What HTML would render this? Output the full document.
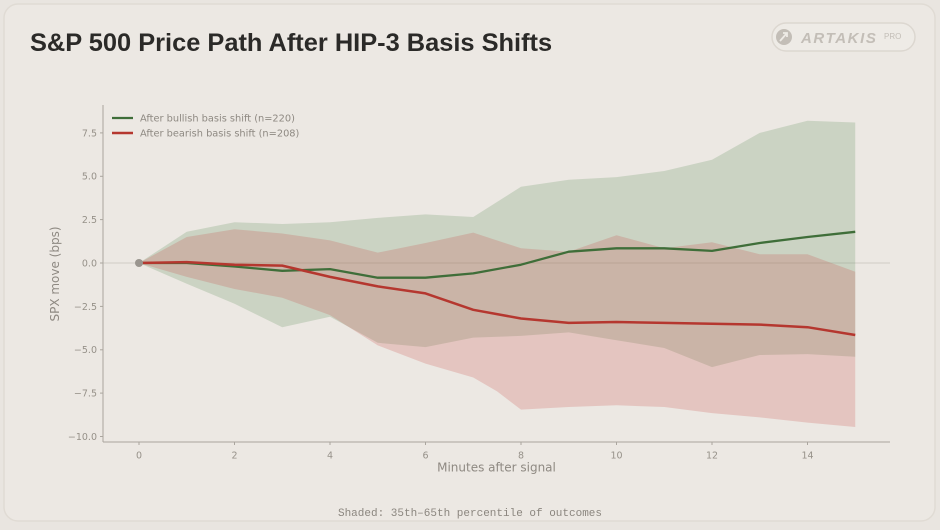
<!DOCTYPE html>
<html><head><meta charset="utf-8"><style>
html,body{margin:0;padding:0;background:#e9e5e0;}
body{width:940px;height:530px;overflow:hidden;}
svg{display:block;}
</style></head><body>
<svg width="940" height="530" viewBox="0 0 940 530" xmlns="http://www.w3.org/2000/svg">
<rect x="0" y="0" width="940" height="530" fill="#e9e5e0"/>
<rect x="4" y="4" width="931" height="517" rx="14" fill="#ece8e3" stroke="#e0dbd4" stroke-width="1.5"/>

<text x="30" y="51" font-family="Liberation Sans, Arial, sans-serif" font-weight="bold" font-size="25.4" fill="#2b2a28">S&amp;P 500 Price Path After HIP-3 Basis Shifts</text>

<g>
<rect x="772" y="23" width="143" height="28" rx="14" fill="#eeebe6" stroke="#dcd7d0" stroke-width="1.5"/>
<circle cx="784" cy="37" r="8" fill="#c3beb7"/>
<path d="M780 41 L787 33 M783 33 L787 33 L787 37" stroke="#eeebe6" stroke-width="1.8" fill="none"/>
<text x="801" y="43" font-family="Liberation Sans, Arial, sans-serif" font-weight="bold" font-style="italic" font-size="15" letter-spacing="1.6" fill="#c3beb7">ARTAKIS</text>
<text x="884" y="39" font-family="Liberation Sans, Arial, sans-serif" font-size="8" fill="#c3beb7">PRO</text>
</g>

<line x1="103" y1="263" x2="890" y2="263" stroke="#c9c4bd" stroke-width="0.8"/>

<polygon fill="#4d8044" fill-opacity="0.2" points="139,263 186.75,231.8 234.5,222.2 282.25,224 330,222.2 377.75,217.9 425.5,214.4 473.25,217 521,186.7 568.75,179.7 616.5,177.1 664.25,171 712,159.8 759.75,132.9 807.5,120.7 855.25,122.5 855.25,356.7 807.5,354.1 759.75,355 712,367.1 664.25,348 616.5,340.2 568.75,332.4 521,335.9 473.25,337.6 425.5,347.1 377.75,342.8 330,316.8 282.25,327.2 234.5,303.8 186.75,283.8"/>

<polygon fill="#c83c37" fill-opacity="0.2" points="139,263 186.75,237 234.5,229.2 282.25,233.5 330,240.4 377.75,252.6 425.5,243 473.25,232.6 521,248.3 568.75,251.7 616.5,235.2 664.25,248.3 712,242.2 759.75,254.3 807.5,254.3 855.25,271.7 855.25,427 807.5,422.6 759.75,417.4 712,413.1 664.25,407 616.5,405.3 568.75,407 521,409.6 497.1,391.4 473.25,377.5 425.5,363.6 377.75,345.4 330,315.1 282.25,297.7 234.5,289 186.75,276.9"/>

<polyline fill="none" stroke="#3f6e39" stroke-width="2.3" stroke-linejoin="round" points="139,263 186.75,263 234.5,266.5 282.25,270.8 330,269.1 377.75,277.7 425.5,277.7 473.25,273.4 521,264.7 568.75,251.7 616.5,248.3 664.25,248.3 712,250.9 759.75,243 807.5,237 855.25,231.8"/>
<polyline fill="none" stroke="#b5372f" stroke-width="2.5" stroke-linejoin="round" points="139,263 186.75,262.1 234.5,264.7 282.25,265.6 330,276.9 377.75,286.4 425.5,293.4 473.25,309.8 521,318.5 568.75,322.9 616.5,322 664.25,322.9 712,323.7 759.75,324.6 807.5,327.2 855.25,335"/>

<circle cx="139" cy="263" r="4" fill="#9a958f"/>

<g stroke="#aaa59e" stroke-width="1" fill="none">
<line x1="103" y1="105" x2="103" y2="442"/>
<line x1="103" y1="442" x2="890" y2="442"/>
<line x1="100" y1="132.9" x2="103" y2="132.9"/>
<line x1="100" y1="176.3" x2="103" y2="176.3"/>
<line x1="100" y1="219.6" x2="103" y2="219.6"/>
<line x1="100" y1="263" x2="103" y2="263"/>
<line x1="100" y1="306.4" x2="103" y2="306.4"/>
<line x1="100" y1="349.8" x2="103" y2="349.8"/>
<line x1="100" y1="393.1" x2="103" y2="393.1"/>
<line x1="100" y1="436.5" x2="103" y2="436.5"/>
<line x1="139" y1="442" x2="139" y2="445"/>
<line x1="234.5" y1="442" x2="234.5" y2="445"/>
<line x1="330" y1="442" x2="330" y2="445"/>
<line x1="425.5" y1="442" x2="425.5" y2="445"/>
<line x1="521" y1="442" x2="521" y2="445"/>
<line x1="616.5" y1="442" x2="616.5" y2="445"/>
<line x1="712" y1="442" x2="712" y2="445"/>
<line x1="807.5" y1="442" x2="807.5" y2="445"/>
</g>

<g font-family="DejaVu Sans, Liberation Sans, sans-serif" font-size="9.5" fill="#969189" text-anchor="end">
<text x="97" y="136.3">7.5</text>
<text x="97" y="179.7">5.0</text>
<text x="97" y="223">2.5</text>
<text x="97" y="266.4">0.0</text>
<text x="97" y="309.8">−2.5</text>
<text x="97" y="353.2">−5.0</text>
<text x="97" y="396.5">−7.5</text>
<text x="97" y="439.9">−10.0</text>
</g>
<g font-family="DejaVu Sans, Liberation Sans, sans-serif" font-size="9.5" fill="#969189" text-anchor="middle">
<text x="139" y="458.5">0</text>
<text x="234.5" y="458.5">2</text>
<text x="330" y="458.5">4</text>
<text x="425.5" y="458.5">6</text>
<text x="521" y="458.5">8</text>
<text x="616.5" y="458.5">10</text>
<text x="712" y="458.5">12</text>
<text x="807.5" y="458.5">14</text>
</g>

<text x="496.5" y="471.5" font-family="DejaVu Sans, Liberation Sans, sans-serif" font-size="12" fill="#8e8982" text-anchor="middle">Minutes after signal</text>
<text transform="translate(59,274) rotate(-90)" font-family="DejaVu Sans, Liberation Sans, sans-serif" font-size="12" fill="#8e8982" text-anchor="middle">SPX move (bps)</text>

<line x1="112" y1="118" x2="133" y2="118" stroke="#3f6e39" stroke-width="2.3"/>
<line x1="112" y1="133" x2="133" y2="133" stroke="#b5372f" stroke-width="2.5"/>
<g font-family="DejaVu Sans, Liberation Sans, sans-serif" font-size="9.8" fill="#8e8982">
<text x="140" y="121.5">After bullish basis shift (n=220)</text>
<text x="140" y="136.5">After bearish basis shift (n=208)</text>
</g>

<text x="470" y="516" font-family="Liberation Mono, DejaVu Sans Mono, monospace" font-size="11" fill="#8b867f" text-anchor="middle">Shaded: 35th–65th percentile of outcomes</text>
</svg>
</body></html>
